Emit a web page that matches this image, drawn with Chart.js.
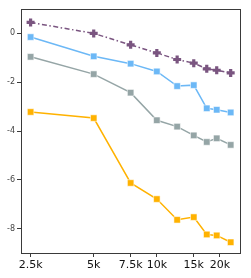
<!DOCTYPE html>
<html>
<head>
<meta charset="utf-8">
<script src="https://cdn.jsdelivr.net/npm/chart.js@4"></script>
<style>
  html, body { margin: 0; padding: 0; background: #fff; }
  #wrap { width: 251px; height: 278px; }
</style>
</head>
<body>
<div id="wrap"><canvas id="chart" width="251" height="278"></canvas></div>
<script>
// data
const sizes = [2500, 5000, 7500, 10000, 12500, 15000, 17300, 19300, 22500];
const purpleVals = [0.45, 0.0, -0.47, -0.8, -1.07, -1.22, -1.45, -1.51, -1.62];
const blueVals = [-0.15, -0.94, -1.24, -1.56, -2.16, -2.12, -3.07, -3.13, -3.24];
const grayVals = [-0.96, -1.67, -2.43, -3.56, -3.82, -4.18, -4.45, -4.3, -4.57];
const orangeVals = [-3.22, -3.47, -6.13, -6.79, -7.64, -7.53, -8.24, -8.28, -8.56];
const xTicks = [2500, 5000, 7500, 10000, 15000, 20000];
const xTickLabels = ['2.5k', '5k', '7.5k', '10k', '15k', '20k'];
const yTicks = [-8, -6, -4, -2, 0];

const pts = vals => vals.map((v, i) => ({ x: sizes[i], y: v }));

const squareSeries = (vals, color) => ({
  data: pts(vals),
  borderColor: color,
  backgroundColor: color,
  borderWidth: 1.5,
  pointStyle: 'rect',
  pointRadius: 4.6,
  pointBorderWidth: 1,
  pointBorderColor: 'rgba(255,255,255,0.55)',
  pointBackgroundColor: color,
  tension: 0,
});

// frame around the plot area
const frame = {
  id: 'frame',
  afterDraw(chart) {
    const { ctx, chartArea: a } = chart;
    ctx.save();
    ctx.strokeStyle = '#3a3a3a';
    ctx.lineWidth = 1;
    ctx.strokeRect(Math.round(a.left) + 0.5, Math.round(a.top) + 0.5,
      Math.round(a.right - a.left) - 1, Math.round(a.bottom - a.top));
    ctx.restore();
  }
};

new Chart(document.getElementById('chart'), {
  type: 'line',
  data: {
    datasets: [
      squareSeries(orangeVals, '#ffb200'),
      squareSeries(grayVals, '#95a5a6'),
      squareSeries(blueVals, '#6cb8f6'),
      {
        data: pts(purpleVals),
        borderColor: '#7a5580',
        backgroundColor: '#7a5580',
        borderWidth: 1.5,
        borderDash: [5, 2.5, 1.5, 2.5],
        pointStyle: 'cross',
        pointRadius: 4,
        pointBorderWidth: 3.2,
        pointBorderColor: '#7a5580',
        tension: 0,
      },
    ],
  },
  options: {
    responsive: false,
    animation: false,
    events: [],
    layout: { padding: { left: 0, right: 10, top: 9, bottom: 0 } },
    plugins: { legend: { display: false }, tooltip: { enabled: false } },
    scales: {
      x: {
        type: 'logarithmic',
        min: 2250,
        max: 25200,
        afterBuildTicks: s => { s.ticks = xTicks.map(v => ({ value: v })); },
        afterFit: s => { s.height = 25; },
        ticks: {
          autoSkip: false,
          maxRotation: 0,
          padding: 2,
          color: '#111',
          font: { family: 'DejaVu Sans', size: 11 },
          callback: v => xTickLabels[xTicks.indexOf(v)] ?? '',
        },
        grid: { drawOnChartArea: false, drawTicks: true, tickLength: 4, color: '#3a3a3a' },
        border: { display: false },
      },
      y: {
        min: -9,
        max: 1,
        afterBuildTicks: s => { s.ticks = yTicks.map(v => ({ value: v })); },
        afterFit: s => { s.width = 21; },
        ticks: {
          padding: 2,
          color: '#444',
          font: { family: 'DejaVu Sans', size: 8 },
        },
        grid: { drawOnChartArea: false, drawTicks: true, tickLength: 4, color: '#3a3a3a' },
        border: { display: false },
      },
    },
  },
  plugins: [frame],
});
</script>
</body>
</html>
